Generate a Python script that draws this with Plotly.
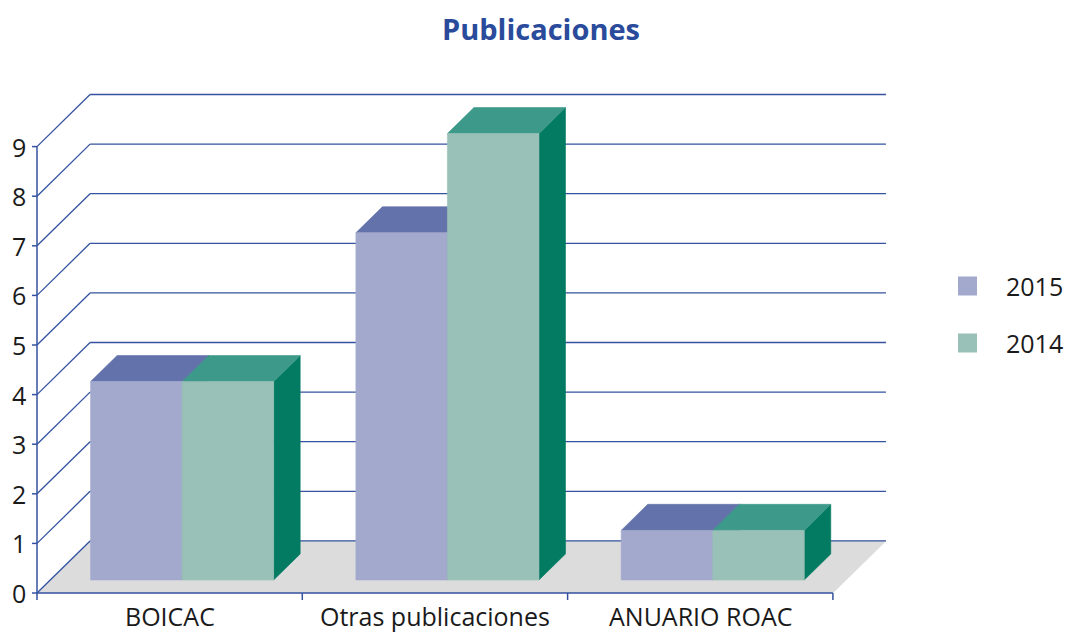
import plotly.graph_objects as go

# ---------------- data ----------------
categories = ["BOICAC", "Otras publicaciones", "ANUARIO ROAC"]
series_names = ["2015", "2014"]
values_2015 = [4, 7, 1]
values_2014 = [4, 9, 1]
y_tick_values = [0, 1, 2, 3, 4, 5, 6, 7, 8, 9]
title_text = "Publicaciones"

# ---------------- styling / layout constants ----------------
W, H = 1066, 634
PX0, PXU = 37.0, 265.3      # pixel of x=0, pixels per category
PY0, PYU = 593.0, 49.6      # pixel of y=0, pixels per unit
DX, DY = 0.2, 1.05          # full depth offset in data units
D0, D1 = 0.25, 0.75         # bar front/back depth fraction
G0, BW = 0.152, 0.345       # group start within category, bar width

ML, MR, MT, MB = 2, 170, 80, 20

GRID = "#3452A0"
FLOOR = "#DCDCDC"
colors = {
    "2015": {"front": "#A2A9CC", "top": "#6372AB", "side": "#4E5E9A"},
    "2014": {"front": "#99C1B7", "top": "#3D9989", "side": "#037A62"},
}
FONT = "Open Sans"
TXT = "#1a1a1a"


def pxx(px):
    return (px - PX0) / PXU


def pxy(py):
    return (PY0 - py) / PYU


def paper_x(px):
    return (px - ML) / (W - ML - MR)


def paper_y(py):
    return (H - MB - py) / (H - MT - MB)


x_range = [(ML - PX0) / PXU, (W - MR - PX0) / PXU]
y_range = [(PY0 - (H - MB)) / PYU, (PY0 - MT) / PYU]

fig = go.Figure()


def poly(xs, ys, color):
    fig.add_trace(go.Scatter(
        x=list(xs) + [xs[0]], y=list(ys) + [ys[0]], mode="lines",
        fill="toself", fillcolor=color, line=dict(color=color, width=0.6),
        hoverinfo="skip", showlegend=False))


def lines(segs, color, width):
    xs, ys = [], []
    for (x0, y0, x1, y1) in segs:
        xs += [x0, x1, None]
        ys += [y0, y1, None]
    fig.add_trace(go.Scatter(x=xs, y=ys, mode="lines",
                             line=dict(color=color, width=width),
                             hoverinfo="skip", showlegend=False))


n_cat = len(categories)
ymax = y_tick_values[-1]

# floor
poly([0, n_cat, n_cat + DX, DX], [0, 0, DY, DY], FLOOR)

# back-wall gridlines and side diagonals
segs = []
for v in y_tick_values:
    segs.append((DX, v + DY, n_cat + DX, v + DY))
    segs.append((0, v, DX, v + DY))
lines(segs, GRID, 1.3)

# bars
series_vals = [values_2015, values_2014]
for i in range(n_cat):
    for s, name in enumerate(series_names):
        v = series_vals[s][i]
        c = colors[name]
        xl = i + G0 + s * BW
        xr = xl + BW
        f0x, f0y = D0 * DX, D0 * DY
        f1x, f1y = D1 * DX, D1 * DY
        # side
        poly([xr + f0x, xr + f1x, xr + f1x, xr + f0x],
             [f0y, f1y, v + f1y, v + f0y], c["side"])
        # top
        poly([xl + f0x, xr + f0x, xr + f1x, xl + f1x],
             [v + f0y, v + f0y, v + f1y, v + f1y], c["top"])
        # front
        poly([xl + f0x, xr + f0x, xr + f0x, xl + f0x],
             [f0y, f0y, v + f0y, v + f0y], c["front"])

# front axes
tick_len_x = 5 / PXU
tick_len_y = 7 / PYU
axis_segs = [(0, 0, 0, ymax), (0, 0, n_cat, 0)]
for v in y_tick_values:
    axis_segs.append((-tick_len_x, v, 0, v))
for i in range(n_cat + 1):
    axis_segs.append((i, 0, i, -tick_len_y))
lines(axis_segs, GRID, 1.5)

annotations = []
for v in y_tick_values:
    annotations.append(dict(x=paper_x(28), y=paper_y(PY0 - v * PYU),
                            xref="paper", yref="paper", text=str(v), showarrow=False,
                            xanchor="right", yanchor="middle",
                            font=dict(family=FONT, size=25, color=TXT)))
for i, cat in enumerate(categories):
    cx = PX0 + (i + 0.5) * PXU
    annotations.append(dict(x=paper_x(cx), y=paper_y(616), xref="paper", yref="paper",
                            text=cat, showarrow=False,
                            xanchor="center", yanchor="middle",
                            font=dict(family=FONT, size=25, color=TXT)))

# legend (manual)
shapes = []
legend_y = [286, 343]
for name, ly in zip(series_names, legend_y):
    shapes.append(dict(type="rect", xref="paper", yref="paper",
                       x0=paper_x(958), x1=paper_x(977),
                       y0=paper_y(ly + 9.5), y1=paper_y(ly - 9.5),
                       fillcolor=colors[name]["front"], line=dict(width=0)))
    annotations.append(dict(x=paper_x(1004), y=paper_y(ly), xref="paper", yref="paper",
                            text=name, showarrow=False,
                            xanchor="left", yanchor="middle",
                            font=dict(family=FONT, size=25, color=TXT)))

fig.update_layout(
    width=W, height=H,
    margin=dict(l=ML, r=MR, t=MT, b=MB, pad=0),
    paper_bgcolor="white", plot_bgcolor="white",
    xaxis=dict(range=x_range, visible=False, fixedrange=True),
    yaxis=dict(range=y_range, visible=False, fixedrange=True),
    showlegend=False,
    hovermode=False,
    title=dict(text="<b>%s</b>" % title_text, x=541 / W, xanchor="center",
               y=1 - 30 / H, yanchor="middle", yref="container",
               font=dict(family=FONT, size=29, color="#2A4B9B")),
    annotations=annotations,
    shapes=shapes,
)

fig.write_html(
    "out.html",
    config={"displayModeBar": False, "staticPlot": True},
    post_script="document.documentElement.style.margin='0';"
                "document.body.style.margin='0';"
                "document.body.style.overflow='hidden';",
)
